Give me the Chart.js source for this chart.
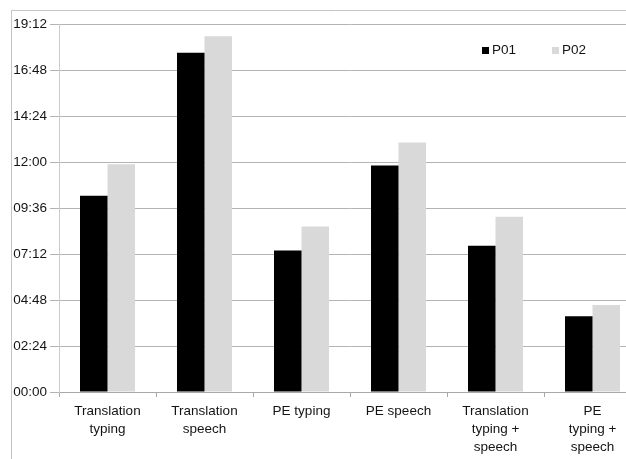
<!DOCTYPE html>
<html>
<head>
<meta charset="utf-8">
<style>
  html, body { margin: 0; padding: 0; background: #ffffff; overflow: hidden; }
  #wrap { position: absolute; left: 0; top: 0; width: 660px; height: 459px; }
</style>
<script src="https://cdn.jsdelivr.net/npm/chart.js@4/dist/chart.umd.min.js"></script>
</head>
<body>
<div id="wrap"><canvas id="c" width="660" height="459"></canvas></div>
<script>
// Task categories (multi-line axis labels)
const categories = [
  ['Translation', 'typing'],
  ['Translation', 'speech'],
  ['PE typing'],
  ['PE speech'],
  ['Translation', 'typing +', 'speech'],
  ['PE', 'typing +', 'speech']
];

// Durations in seconds
const p01 = [614, 1062, 443, 709, 458, 237];
const p02 = [713, 1114, 518, 781, 549, 272];

// Y axis: 00:00 to 19:12 in steps of 02:24
const yMax = 1152;
const yStep = 144;

const seriesNames = ['P01', 'P02'];
const seriesColors = ['#000000', '#d9d9d9'];

function mmss(sec) {
  const m = Math.floor(sec / 60);
  const s = Math.round(sec % 60);
  return String(m).padStart(2, '0') + ':' + String(s).padStart(2, '0');
}

const FONT = 'Liberation Sans, Arial, sans-serif';
const TEXT = '#141414';

// Outer frame line along the left and top of the chart object
const framePlugin = {
  id: 'frame',
  beforeDraw(chart) {
    const ctx = chart.ctx;
    ctx.save();
    ctx.strokeStyle = '#c4c4c4';
    ctx.lineWidth = 1;
    ctx.beginPath();
    ctx.moveTo(11.5, chart.height);
    ctx.lineTo(11.5, 10.5);
    ctx.lineTo(chart.width, 10.5);
    ctx.stroke();
    ctx.restore();
  }
};

// Legend drawn inside the plot area, top right
const innerLegend = {
  id: 'innerLegend',
  afterDraw(chart) {
    const ctx = chart.ctx;
    const entries = [{ x: 482, y: 47 }, { x: 552, y: 47 }];
    ctx.save();
    ctx.font = '13.5px ' + FONT;
    ctx.textBaseline = 'middle';
    ctx.textAlign = 'left';
    chart.data.datasets.forEach((ds, i) => {
      const e = entries[i];
      ctx.fillStyle = ds.backgroundColor;
      ctx.fillRect(e.x, e.y, 7, 7);
      ctx.fillStyle = TEXT;
      ctx.fillText(ds.label, e.x + 10, e.y + 3.5);
    });
    ctx.restore();
  }
};

new Chart(document.getElementById('c'), {
  type: 'bar',
  data: {
    labels: categories,
    datasets: [
      { label: seriesNames[0], data: p01, backgroundColor: seriesColors[0] },
      { label: seriesNames[1], data: p02, backgroundColor: seriesColors[1] }
    ]
  },
  options: {
    responsive: false,
    animation: false,
    devicePixelRatio: 1,
    layout: { padding: { left: 0, top: 24, right: 19, bottom: 0 } },
    datasets: { bar: { categoryPercentage: 0.567, barPercentage: 1.0 } },
    plugins: {
      legend: { display: false },
      tooltip: { enabled: false }
    },
    scales: {
      x: {
        grid: {
          display: true,
          drawOnChartArea: false,
          drawTicks: true,
          tickLength: 5,
          color: '#a8a8a8',
          offset: true
        },
        border: { display: true, color: '#a8a8a8' },
        ticks: {
          color: TEXT,
          padding: 5,
          maxRotation: 0,
          autoSkip: false,
          font: { family: FONT, size: 13.5, lineHeight: '18px' }
        },
        afterFit(scale) { scale.height = 67; }
      },
      y: {
        min: 0,
        max: yMax,
        grid: {
          color: '#b4b4b4',
          drawTicks: true,
          tickLength: 9
        },
        border: { display: true, color: '#cccccc' },
        ticks: {
          stepSize: yStep,
          color: TEXT,
          padding: 3,
          font: { family: FONT, size: 13.5 },
          callback: (v) => mmss(v)
        },
        afterFit(scale) { scale.width = 59; }
      }
    }
  },
  plugins: [framePlugin, innerLegend]
});
</script>
</body>
</html>
